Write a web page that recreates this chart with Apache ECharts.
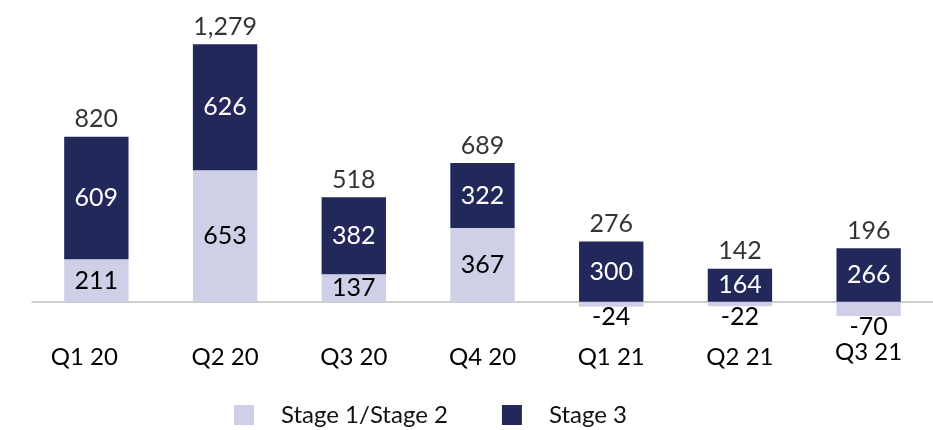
<!DOCTYPE html>
<html>
<head>
<meta charset="utf-8">
<script src="https://cdn.jsdelivr.net/npm/echarts@6/dist/echarts.min.js"></script>
<style>
  html, body { margin: 0; padding: 0; background: #fff; }
  #chart { width: 933px; height: 430px; }
</style>
</head>
<body>
<div id="chart"></div>
<script>
// data
const quarters = ['Q1 20', 'Q2 20', 'Q3 20', 'Q4 20', 'Q1 21', 'Q2 21', 'Q3 21'];
const stage12 = [211, 653, 137, 367, -24, -22, -70];
const stage3 = [609, 626, 382, 322, 300, 164, 266];
const totals = [820, 1279, 518, 689, 276, 142, 196];

const lightColor = '#cfd0e8';
const darkColor = '#23285a';
const font = 'Lato';

// top of the positive part of each stack, where the total sits
const stackTops = stage12.map((v, i) => Math.max(v, 0) + stage3[i]);

// the first and last quarter labels are nudged a little in the original
const quarterLabel = (q, i) => {
    if (i === 0) return { value: q, textStyle: { padding: [0, 24, 0, 0] } };
    if (i === quarters.length - 1) return { value: q, textStyle: { lineHeight: 14 } };
    return q;
};

const getOption = () => {
    return {
        animation: false,
        textStyle: { fontFamily: font },
        grid: { left: 32, right: 0, top: 40, bottom: 108 },
        legend: {
            left: 229,
            top: 398,
            itemWidth: 20,
            itemHeight: 20,
            itemGap: 54,
            icon: 'rect',
            textStyle: { fontFamily: font, fontSize: 24, color: '#111', padding: [0, 0, 0, 22] },
            data: ['Stage 1/Stage 2', 'Stage 3']
        },
        xAxis: {
            type: 'category',
            data: quarters.map(quarterLabel),
            axisLine: { onZero: true, lineStyle: { color: '#bfbfbf', width: 1.5 } },
            axisTick: { show: false },
            axisLabel: { fontFamily: font, fontSize: 24, color: '#000', margin: 23 }
        },
        yAxis: {
            type: 'value',
            min: -100,
            max: 1300,
            show: false,
            splitLine: { show: false }
        },
        series: [
            {
                name: 'Stage 1/Stage 2',
                type: 'bar',
                stack: 'total',
                barWidth: '50%',
                itemStyle: { color: lightColor },
                data: stage12.map(v => ({
                    value: v,
                    label: v < 0 ? { position: 'bottom', distance: -2 } : { position: 'inside' }
                })),
                label: { show: true, fontFamily: font, fontSize: 25, color: '#000' }
            },
            {
                name: 'Stage 3',
                type: 'bar',
                stack: 'total',
                barWidth: '50%',
                itemStyle: { color: darkColor },
                data: stage3,
                label: { show: true, position: 'inside', fontFamily: font, fontSize: 25, color: '#fff' }
            },
            {
                name: 'Total',
                type: 'scatter',
                symbolSize: 0,
                data: stackTops,
                silent: true,
                label: {
                    show: true,
                    position: 'top',
                    distance: 5,
                    fontFamily: font,
                    fontSize: 25,
                    color: '#000',
                    formatter: p => totals[p.dataIndex].toLocaleString('en-US')
                }
            }
        ]
    };
};

let chart = echarts.init(document.getElementById('chart'));
chart.setOption(getOption());
</script>
</body>
</html>
